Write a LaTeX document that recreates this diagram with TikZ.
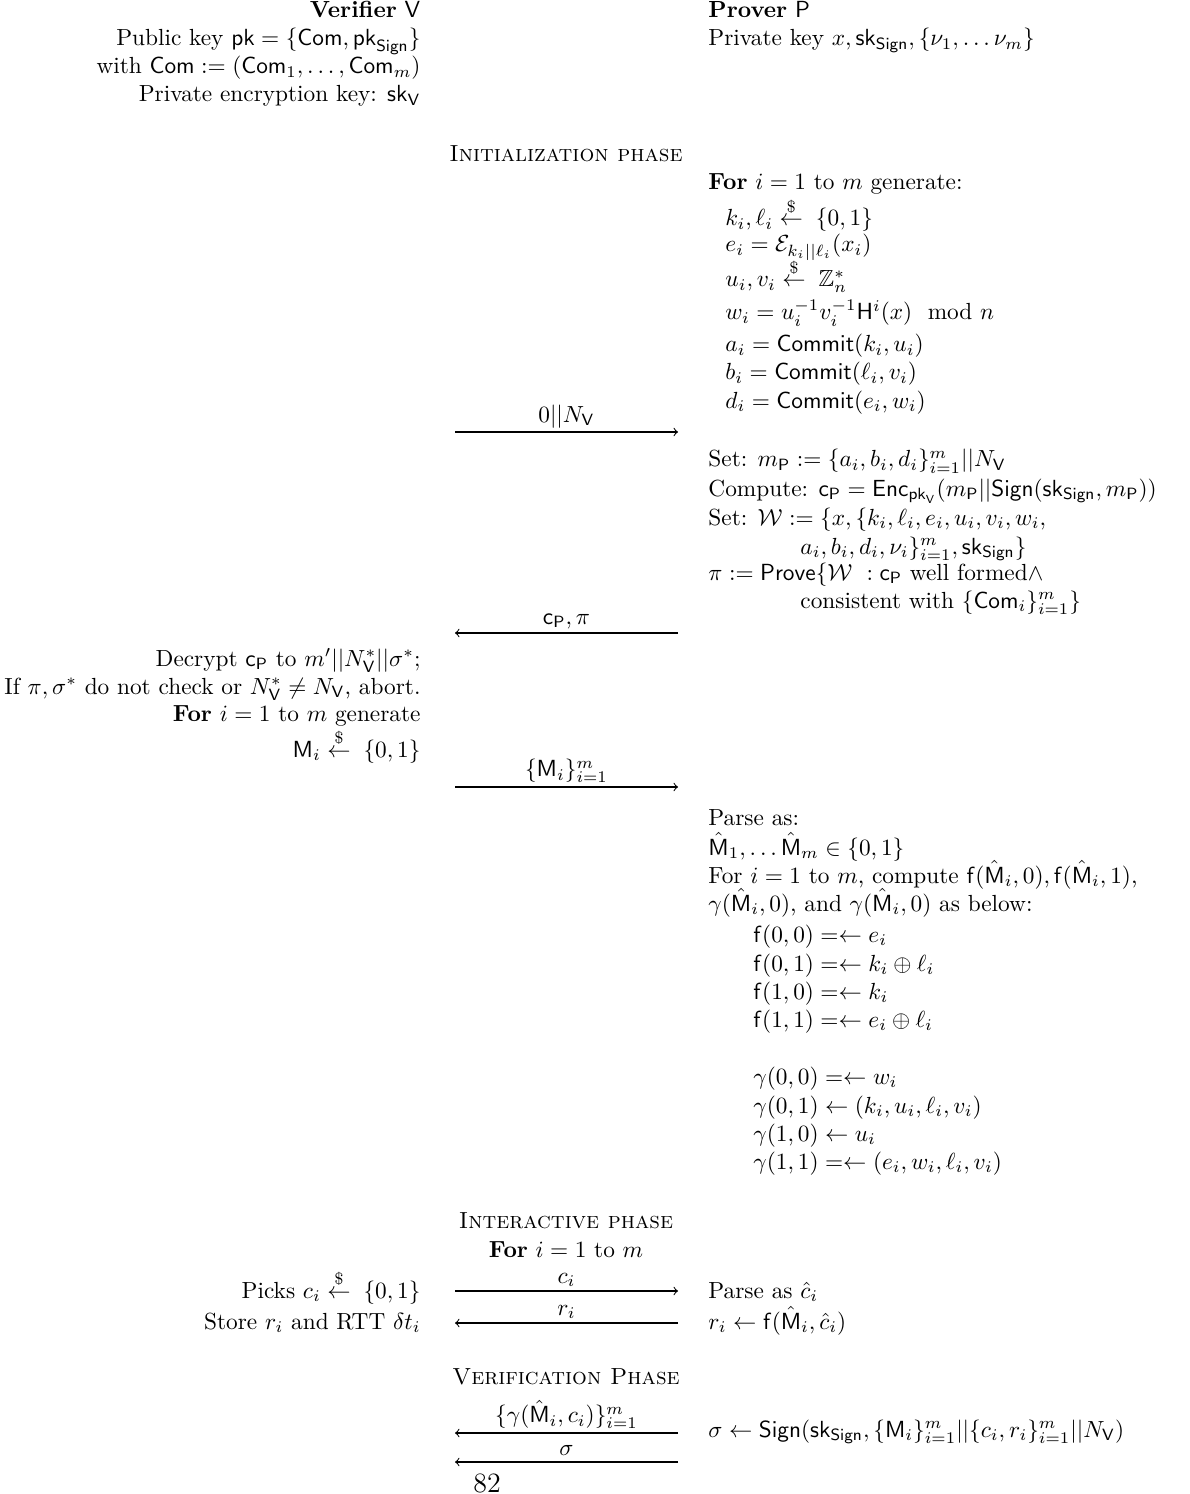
\documentclass[tikz,border=0pt]{standalone}
\usepackage{amsmath,amssymb}
\newcommand{\sfx}[1]{\mathsf{#1}}
\newcommand{\rnd}{\overset{\$}{\leftarrow}\;}
\begin{document}
\begin{tikzpicture}[x={(0.429pt,0)},y={(0,-0.429pt)},
  lft/.style={anchor=base east,inner sep=0pt},
  rgt/.style={anchor=base west,inner sep=0pt},
  mid/.style={anchor=base,inner sep=0pt},
  msg/.style={->,line width=0.45pt},
  lbl/.style={above,inner sep=1.5pt}]
\useasboundingbox (0,0) rectangle (1189,1494);
% Verifier header
\node[lft] (v0) at (421,18) {\textbf{Verifier} $\sfx{V}$};
\node[lft] (v1) at (421,46) {Public key $\sfx{pk} = \{\sfx{Com}, \sfx{pk}_{\sfx{Sign}}\}$};
\node[lft] (v2) at (421,74) {with $\sfx{Com} := (\sfx{Com}_1, \ldots, \sfx{Com}_m)$};
\node[lft] (v3) at (421,102) {Private encryption key: $\sfx{sk}_{\sfx{V}}$};
% Prover header
\node[rgt] (p0) at (708,18) {\textbf{Prover} $\sfx{P}$};
\node[rgt] (p1) at (708,46) {Private key $x, \sfx{sk}_{\sfx{Sign}}, \{\nu_1, \ldots \nu_m\}$};
% Initialization
\node[mid] (ph1) at (566,162) {\textsc{Initialization phase}};
\node[rgt] (g0) at (708,190) {\textbf{For} $i = 1$ to $m$ generate:};
\node[rgt] (g1) at (725,226) {$k_i, \ell_i \rnd \{0,1\}$};
\node[rgt] (g2) at (725,252) {$e_i = \mathcal{E}_{k_i||\ell_i}(x_i)$};
\node[rgt] (g3) at (725,287) {$u_i, v_i \rnd \mathbb{Z}_n^*$};
\node[rgt] (g4) at (725,320) {$w_i = u_i^{-1} v_i^{-1} \sfx{H}^i(x) \mod n$};
\node[rgt] (g5) at (725,352) {$a_i = \sfx{Commit}(k_i, u_i)$};
\node[rgt] (g6) at (725,380) {$b_i = \sfx{Commit}(\ell_i, v_i)$};
\node[rgt] (g7) at (725,408) {$d_i = \sfx{Commit}(e_i, w_i)$};
\coordinate (a1l) at (455,432);
\coordinate (a1r) at (678,432);
\draw[msg] (a1l) -- node[lbl] (m1) {$0||N_{\sfx{V}}$} (a1r);
\node[rgt] (s1) at (708,467) {Set: $m_{\sfx{P}} := \{a_i, b_i, d_i\}_{i=1}^m || N_{\sfx{V}}$};
\node[rgt] (s2) at (708,496) {Compute: $\sfx{c}_{\sfx{P}} = \sfx{Enc}_{\sfx{pk}_{\sfx{V}}}(m_{\sfx{P}} || \sfx{Sign}(\sfx{sk}_{\sfx{Sign}}, m_{\sfx{P}}))$};
\node[rgt] (s3) at (708,525) {Set: $\mathcal{W} := \{x, \{k_i, \ell_i, e_i, u_i, v_i, w_i,$};
\node[rgt] (s4) at (800,554) {$a_i, b_i, d_i, \nu_i\}_{i=1}^m, \sfx{sk}_{\sfx{Sign}}\}$};
\node[rgt] (s5) at (708,580) {$\pi := \sfx{Prove}\{\mathcal{W}\ : \sfx{c}_{\sfx{P}}$ well formed$\wedge$};
\node[rgt] (s6) at (800,608) {consistent with $\{\sfx{Com}_i\}_{i=1}^m\}$};
\coordinate (a2l) at (455,633);
\coordinate (a2r) at (678,633);
\draw[msg] (a2r) -- node[lbl] (m2) {$\sfx{c}_{\sfx{P}}, \pi$} (a2l);
\node[lft] (d1) at (421,666) {Decrypt $\sfx{c}_{\sfx{P}}$ to $m'||N_{\sfx{V}}^*||\sigma^*$;};
\node[lft] (d2) at (421,694) {If $\pi, \sigma^*$ do not check or $N_{\sfx{V}}^* \neq N_{\sfx{V}}$, abort.};
\node[lft] (d3) at (421,721) {\textbf{For} $i = 1$ to $m$ generate};
\node[lft] (d4) at (421,757) {$\sfx{M}_i \rnd \{0,1\}$};
\coordinate (a3l) at (455,787);
\coordinate (a3r) at (678,787);
\draw[msg] (a3l) -- node[lbl] (m3) {$\{\sfx{M}_i\}_{i=1}^m$} (a3r);
\node[rgt] (q1) at (708,825) {Parse as:};
\node[rgt] (q2) at (708,855) {$\hat{\sfx{M}}_1, \ldots \hat{\sfx{M}}_m \in \{0,1\}$};
\node[rgt] (q3) at (708,883) {For $i = 1$ to $m$, compute $\sfx{f}(\hat{\sfx{M}}_i, 0), \sfx{f}(\hat{\sfx{M}}_i, 1)$,};
\node[rgt] (q4) at (708,911) {$\gamma(\hat{\sfx{M}}_i, 0)$, and $\gamma(\hat{\sfx{M}}_i, 0)$ as below:};
\node[rgt] (f1) at (753,942) {$\sfx{f}(0,0) =\leftarrow e_i$};
\node[rgt] (f2) at (753,971) {$\sfx{f}(0,1) =\leftarrow k_i \oplus \ell_i$};
\node[rgt] (f3) at (753,999) {$\sfx{f}(1,0) =\leftarrow k_i$};
\node[rgt] (f4) at (753,1027) {$\sfx{f}(1,1) =\leftarrow e_i \oplus \ell_i$};
\node[rgt] (c1) at (753,1084) {$\gamma(0,0) =\leftarrow w_i$};
\node[rgt] (c2) at (753,1113) {$\gamma(0,1) \leftarrow (k_i, u_i, \ell_i, v_i)$};
\node[rgt] (c3) at (753,1141) {$\gamma(1,0) \leftarrow u_i$};
\node[rgt] (c4) at (753,1169) {$\gamma(1,1) =\leftarrow (e_i, w_i, \ell_i, v_i)$};
% Interactive
\node[mid] (ph2) at (566,1228) {\textsc{Interactive phase}};
\node[mid] (ph2b) at (566,1257) {\textbf{For} $i = 1$ to $m$};
\node[lft] (i1) at (421,1298) {Picks $c_i \rnd \{0,1\}$};
\node[lft] (i2) at (421,1329) {Store $r_i$ and RTT $\delta t_i$};
\node[rgt] (j1) at (708,1298) {Parse as $\hat{c}_i$};
\node[rgt] (j2) at (708,1329) {$r_i \leftarrow \sfx{f}(\hat{\sfx{M}}_i, \hat{c}_i)$};
\coordinate (a4l) at (455,1291);
\coordinate (a4r) at (678,1291);
\draw[msg] (a4l) -- node[lbl] (m4) {$c_i$} (a4r);
\coordinate (a5l) at (455,1323);
\coordinate (a5r) at (678,1323);
\draw[msg] (a5r) -- node[lbl] (m5) {$r_i$} (a5l);
% Verification
\node[mid] (ph3) at (566,1384) {\textsc{Verification Phase}};
\coordinate (a6l) at (455,1433);
\coordinate (a6r) at (678,1433);
\draw[msg] (a6r) -- node[lbl] (m6) {$\{\gamma(\hat{\sfx{M}}_i, c_i)\}_{i=1}^m$} (a6l);
\coordinate (a7l) at (455,1462);
\coordinate (a7r) at (678,1462);
\draw[msg] (a7r) -- node[lbl,inner sep=2.5pt] (m7) {$\sigma$} (a7l);
\node[rgt] (t1) at (708,1437) {$\sigma \leftarrow \sfx{Sign}(\sfx{sk}_{\sfx{Sign}}, \{\sfx{M}_i\}_{i=1}^m || \{c_i, r_i\}_{i=1}^m || N_{\sfx{V}})$};
\node[mid] (pg) at (487,1492) {\large 82};
\end{tikzpicture}
\end{document}
